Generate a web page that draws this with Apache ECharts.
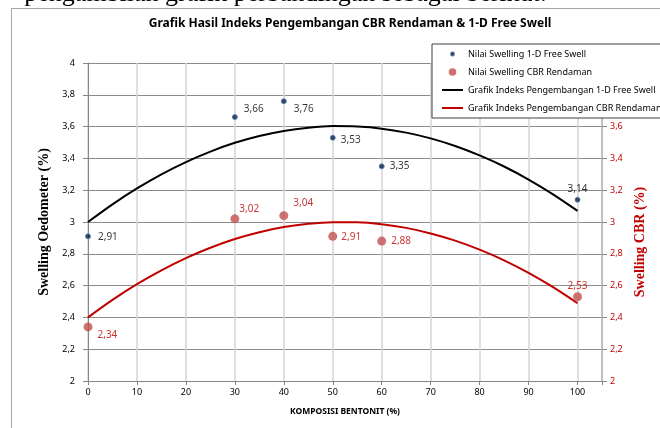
<!DOCTYPE html>
<html>
<head>
<meta charset="utf-8">
<script src="https://cdn.jsdelivr.net/npm/echarts@6/dist/echarts.min.js"></script>
<style>
html,body{margin:0;padding:0;background:#fff;}
#chart{width:660px;height:428px;}
</style>
</head>
<body>
<div id="chart"></div>
<script>
// ---- data ----
const komposisi = [0, 30, 40, 50, 60, 100];
const freeSwell = [2.91, 3.66, 3.76, 3.53, 3.35, 3.14];
const cbrRendaman = [2.34, 3.02, 3.04, 2.91, 2.88, 2.53];
// trend curves
const trendX = [0, 5, 10, 15, 20, 25, 30, 35, 40, 45, 50, 55, 60, 65, 70, 75, 80, 85, 90, 95, 100];
const trendFreeSwell = [3.000, 3.111, 3.211, 3.300, 3.377, 3.443, 3.498, 3.541, 3.573, 3.593, 3.603, 3.600, 3.587, 3.562, 3.526, 3.478, 3.419, 3.349, 3.267, 3.174, 3.070];
const trendCbr = [2.400, 2.510, 2.609, 2.696, 2.773, 2.838, 2.893, 2.936, 2.968, 2.989, 2.999, 2.998, 2.986, 2.963, 2.928, 2.883, 2.826, 2.759, 2.680, 2.590, 2.489];
const xTicks = [0, 10, 20, 30, 40, 50, 60, 70, 80, 90, 100];
const seriesNames = [
  'Nilai Swelling 1-D Free Swell',
  'Nilai Swelling CBR Rendaman',
  'Grafik Indeks Pengembangan 1-D Free Swell',
  'Grafik Indeks Pengembangan CBR Rendaman'
];
const titleText = 'Grafik Hasil Indeks Pengembangan CBR Rendaman & 1-D Free Swell';
const xTitle = 'KOMPOSISI BENTONIT (%)';
const yLeftTitle = 'Swelling Oedometer (%)';
const yRightTitle = 'Swelling CBR (%)';

// ---- label placement (style) ----
const fsLabelPos = [['right',[2,1]],['right',[1,-8]],['right',[2,8]],['right',[0,2]],['right',[0,0]],['top',[0,2]]];
const cbrLabelPos = [['right',[0,8]],['right',[-5,-10]],['right',[0,-12]],['right',[-1,1]],['right',[0,0]],['top',[0,4]]];

const FONT = "'Noto Sans', sans-serif";
const fmt = v => String(Math.round(v * 100) / 100).replace('.', ',');

function svgIcon(inner) {
  const svg = '<svg xmlns="http://www.w3.org/2000/svg" width="21" height="10" viewBox="0 0 21 10">' + inner + '</svg>';
  return 'image://data:image/svg+xml;charset=utf-8,' + encodeURIComponent(svg);
}
const legendIcons = [
  svgIcon('<circle cx="10.5" cy="5" r="2.2" fill="#0b1a3a" stroke="#4f81bd" stroke-width="0.8"/>'),
  svgIcon('<circle cx="10.5" cy="5" r="3.8" fill="#c0504d"/>'),
  svgIcon('<rect x="0" y="4" width="21" height="2" fill="#000"/>'),
  svgIcon('<rect x="0" y="4" width="21" height="2" fill="#c00000"/>')
];

const chart = echarts.init(document.getElementById('chart'), null, {renderer: 'canvas'});

function pts(xs, ys, posArr) {
  return xs.map((x, i) => ({
    value: [x, ys[i]],
    label: {position: posArr[i][0], offset: posArr[i][1], distance: 5}
  }));
}

const option = {
  animation: false,
  backgroundColor: '#fff',
  title: {
    text: titleText,
    left: 345, top: 13,
    textAlign: 'center',
    textStyle: {fontFamily: FONT, fontSize: 12, fontWeight: 'bold', color: '#000'}
  },
  legend: {
    orient: 'vertical',
    left: 432, top: 44,
    padding: [5, 20, 5, 10],
    itemGap: 8,
    itemWidth: 21, itemHeight: 10,
    borderColor: '#404040', borderWidth: 1,
    backgroundColor: '#fff',
    textStyle: {fontFamily: FONT, fontSize: 9, color: '#000'},
    data: seriesNames.map((n, i) => ({name: n, icon: legendIcons[i]}))
  },
  grid: {left: 88, right: 58, top: 63, bottom: 47, containLabel: false},
  xAxis: {
    type: 'value', min: 0, max: 105, interval: 10,
    name: xTitle, nameLocation: 'middle', nameGap: 26,
    nameTextStyle: {fontFamily: FONT, fontSize: 8.5, fontWeight: 'bold', color: '#000'},
    axisLine: {show: true, lineStyle: {color: '#868686'}},
    axisTick: {show: true, length: 4, lineStyle: {color: '#868686'}},
    axisLabel: {fontFamily: FONT, fontSize: 9, color: '#000', margin: 7,
      formatter: v => (xTicks.indexOf(v) >= 0 ? String(v) : '')},
    splitLine: {show: true, lineStyle: {color: '#d4d4d4', width: 1.5}}
  },
  yAxis: [
    {
      type: 'value', min: 2, max: 4, interval: 0.2, position: 'left',
      name: yLeftTitle, nameLocation: 'middle', nameGap: 34,
      nameTextStyle: {fontFamily: "'Liberation Serif', serif", fontSize: 14, fontWeight: 'bold', color: '#000'},
      axisLine: {show: true, lineStyle: {color: '#868686'}},
      axisTick: {show: true, length: 5, lineStyle: {color: '#868686'}},
      axisLabel: {fontFamily: FONT, fontSize: 9, color: '#000', margin: 13, formatter: fmt},
      splitLine: {show: true, lineStyle: {color: '#8c8c8c', width: 1}}
    },
    {
      type: 'value', min: 2, max: 4, interval: 0.2, position: 'right',
      name: yRightTitle, nameLocation: 'middle', nameGap: 24, nameRotate: 90,
      nameTextStyle: {fontFamily: "'Liberation Serif', serif", fontSize: 14, fontWeight: 'bold', color: '#c00000', padding: [0, 40, 0, 0]},
      axisLine: {show: true, lineStyle: {color: '#bfbfbf', width: 2}},
      axisTick: {show: true, length: 5, lineStyle: {color: '#868686'}},
      axisLabel: {fontFamily: FONT, fontSize: 9, color: '#c00000', margin: 8, formatter: fmt},
      splitLine: {show: false}
    }
  ],
  series: [
    {
      name: seriesNames[0], type: 'scatter', yAxisIndex: 0, z: 5,
      symbol: 'circle', symbolSize: 5,
      itemStyle: {color: '#0b1a3a', borderColor: '#4f81bd', borderWidth: 1},
      label: {show: true, fontFamily: FONT, fontSize: 10, color: '#000', formatter: p => fmt(p.value[1])},
      data: pts(komposisi, freeSwell, fsLabelPos)
    },
    {
      name: seriesNames[1], type: 'scatter', yAxisIndex: 1, z: 5,
      symbol: 'circle', symbolSize: 9,
      itemStyle: {color: '#c0504d'},
      label: {show: true, fontFamily: FONT, fontSize: 10, color: '#c00000', formatter: p => fmt(p.value[1])},
      data: pts(komposisi, cbrRendaman, cbrLabelPos)
    },
    {
      name: seriesNames[2], type: 'line', yAxisIndex: 0, smooth: 0.3,
      symbol: 'none', showSymbol: false,
      lineStyle: {color: '#000', width: 2},
      itemStyle: {color: '#000'},
      data: trendX.map((x, i) => [x, trendFreeSwell[i]])
    },
    {
      name: seriesNames[3], type: 'line', yAxisIndex: 1, smooth: 0.3,
      symbol: 'none', showSymbol: false,
      lineStyle: {color: '#c00000', width: 2},
      itemStyle: {color: '#c00000'},
      data: trendX.map((x, i) => [x, trendCbr[i]])
    }
  ],
  graphic: [
    {type: 'rect', z: -1, shape: {x: 11.5, y: 8.5, width: 700, height: 500}, style: {fill: 'none', stroke: '#a6a6a6', lineWidth: 1}},
    {type: 'text', x: 547, y: 7, style: {text: 'pengambilan grafik perbandingan sebagai berikut:', font: "26px 'Liberation Serif', serif", fill: '#000', textAlign: 'right', textVerticalAlign: 'bottom'}}
  ]
};
chart.setOption(option);
</script>
</body>
</html>
